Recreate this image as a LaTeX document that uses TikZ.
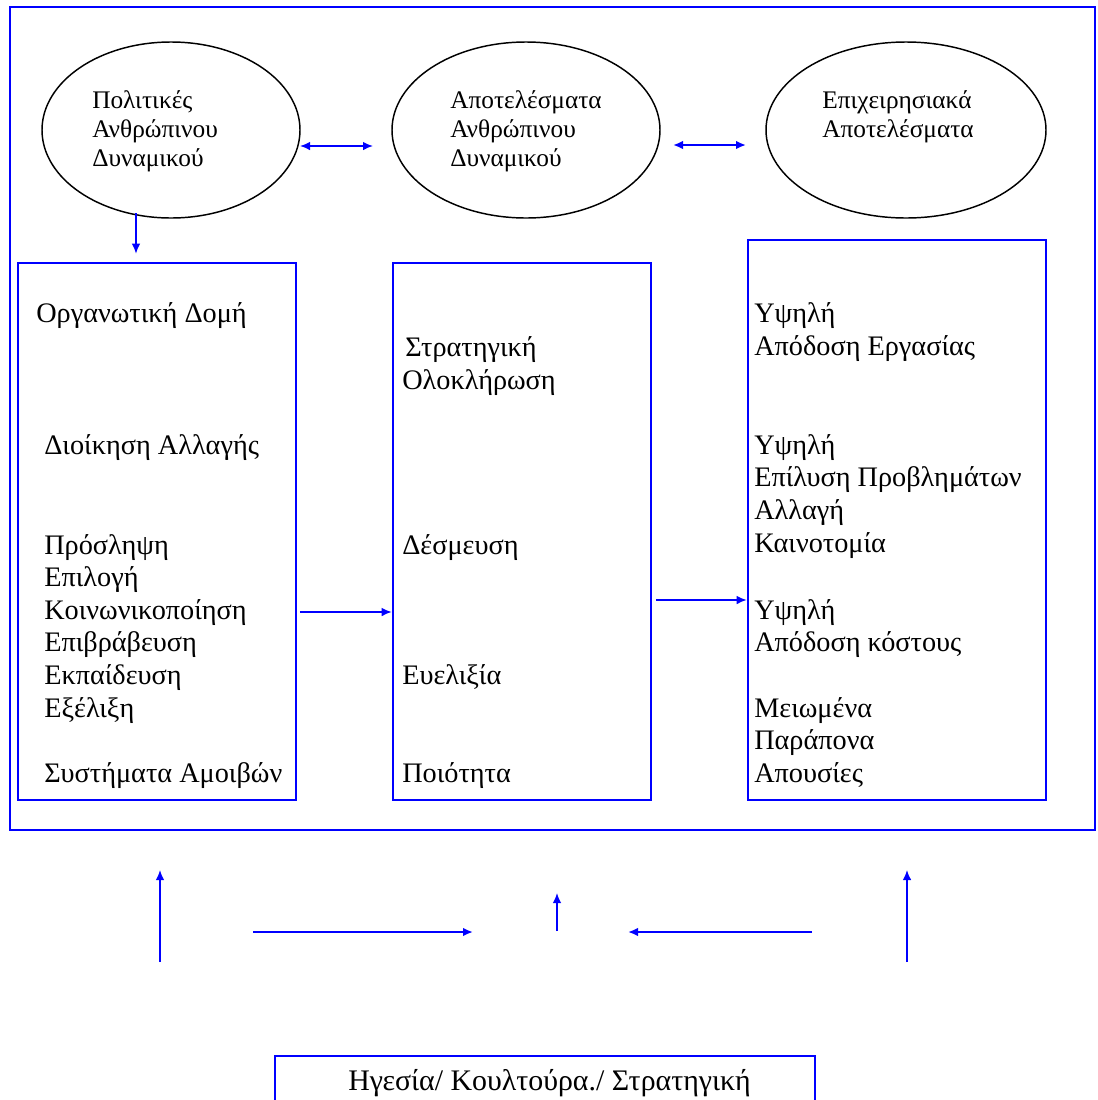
\documentclass[tikz,border=0pt]{standalone}
\usepackage{fontspec}
\setmainfont{Liberation Serif}
\usetikzlibrary{arrows.meta,shapes.geometric}

\begin{document}
\begin{tikzpicture}[x=0.75pt,y=-0.75pt,
  panel/.style={draw=blue,line width=1.9pt,inner sep=0pt},
  bubble/.style={draw,ellipse,line width=1.1pt,inner sep=0pt},
  flow/.style={draw=blue,line width=1.2pt,-{Latex[length=7.5pt,width=6.5pt]}},
  twoway/.style={flow,{Latex[length=7.5pt,width=6.5pt]}-{Latex[length=7.5pt,width=6.5pt]}},
  boldflow/.style={flow,line width=1.8pt},
  item/.style={anchor=base west,inner sep=0pt,font=\fontsize{21.2}{24.4}\selectfont},
  bubbletext/.style={anchor=base west,inner sep=0pt,font=\fontsize{19}{22}\selectfont}]
  \useasboundingbox (0,0) rectangle (1097,1100);

  % outer frame
  \draw[blue,line width=1.5pt] (10,7) rectangle (1095,830);

  % ellipses
  \node[bubble,minimum width=193.5pt,minimum height=132pt] (policy) at (171,130) {};
  \node[bubble,minimum width=201pt,minimum height=132pt] (hrout) at (526,130) {};
  \node[bubble,minimum width=210pt,minimum height=132pt] (busout) at (906,130) {};
  \node[bubbletext] (policy1) at (92,108) {Πολιτικές};
  \node[bubbletext] (policy2) at (92,137) {Ανθρώπινου};
  \node[bubbletext] (policy3) at (92,166) {Δυναμικού};
  \node[bubbletext] (hrout1) at (450,108) {Αποτελέσματα};
  \node[bubbletext] (hrout2) at (450,137) {Ανθρώπινου};
  \node[bubbletext] (hrout3) at (450,166) {Δυναμικού};
  \node[bubbletext] (busout1) at (822,108) {Επιχειρησιακά};
  \node[bubbletext] (busout2) at (822,137) {Αποτελέσματα};

  % boxes
  \node[panel,minimum width=208.5pt,minimum height=402.75pt] (hrm) at (157,531.5) {};
  \node[panel,minimum width=193.5pt,minimum height=402.75pt] (hrgoal) at (522,531.5) {};
  \node[panel,minimum width=223.5pt,minimum height=420pt] (effect) at (897,520) {};

  % left box
  \node[item] (org) at (36,322) {Οργανωτική Δομή};
  \node[item] (change) at (44,454) {Διοίκηση Αλλαγής};
  \node[item] (hire) at (44,554) {Πρόσληψη};
  \node[item] (select) at (44,586) {Επιλογή};
  \node[item] (social) at (44,619) {Κοινωνικοποίηση};
  \node[item] (reward) at (44,651) {Επιβράβευση};
  \node[item] (train) at (44,684) {Εκπαίδευση};
  \node[item] (career) at (44,717) {Εξέλιξη};
  \node[item] (pay) at (44,782) {Συστήματα Αμοιβών};

  % middle box
  \node[item] (integ1) at (405,356) {Στρατηγική};
  \node[item] (integ2) at (402,389) {Ολοκλήρωση};
  \node[item] (commit) at (402,554) {Δέσμευση};
  \node[item] (flex) at (402,684) {Ευελιξία};
  \node[item] (quality) at (402,782) {Ποιότητα};

  % right box
  \node[item] (perf1) at (754,322) {Υψηλή};
  \node[item] (perf2) at (754,355) {Απόδοση Εργασίας};
  \node[item] (solve1) at (754,454) {Υψηλή};
  \node[item] (solve2) at (754,486) {Επίλυση Προβλημάτων};
  \node[item] (solve3) at (754,519) {Αλλαγή};
  \node[item] (solve4) at (754,552) {Καινοτομία};
  \node[item] (cost1) at (754,619) {Υψηλή};
  \node[item] (cost2) at (754,651) {Απόδοση κόστους};
  \node[item] (less1) at (754,717) {Μειωμένα};
  \node[item] (less2) at (754,749) {Παράπονα};
  \node[item] (less3) at (754,782) {Απουσίες};

  % bottom box
  \node[panel,minimum width=405pt,minimum height=75pt] (lead) at (545,1106) {};
  \node[item,font=\fontsize{22.4}{26}\selectfont] (leadtxt) at (348,1090) {Ηγεσία/ Κουλτούρα./ Στρατηγική};

  % connectors
  \coordinate (pe) at (300,146);
  \coordinate (hw) at (373,146);
  \coordinate (he) at (673,145);
  \coordinate (bw) at (746,145);
  \coordinate (ps) at (136,213);
  \coordinate (y1) at (0,612);
  \coordinate (y2) at (0,600);
  \draw[twoway] (pe) -- (hw);
  \draw[twoway,line width=1.8pt] (he) -- (bw);
  \draw[flow] (ps) -- ([yshift=6pt]hrm.north -| ps);
  \draw[flow] ([xshift=2pt]hrm.east |- y1) -- (hrgoal.west |- y1);
  \draw[flow] ([xshift=3pt]hrgoal.east |- y2) -- (effect.west |- y2);

  % lower arrows
  \coordinate (l1) at (160,962);
  \coordinate (l2) at (160,870);
  \coordinate (m1) at (557,931);
  \coordinate (m2) at (557,893);
  \coordinate (r1) at (907,962);
  \coordinate (r2) at (907,870);
  \coordinate (a1) at (253,932);
  \coordinate (a2) at (473,932);
  \coordinate (b1) at (812,932);
  \coordinate (b2) at (628,932);
  \draw[flow] (l1) -- (l2);
  \draw[flow] (m1) -- (m2);
  \draw[flow] (r1) -- (r2);
  \draw[boldflow] (a1) -- (a2);
  \draw[boldflow] (b1) -- (b2);
\end{tikzpicture}
\end{document}
